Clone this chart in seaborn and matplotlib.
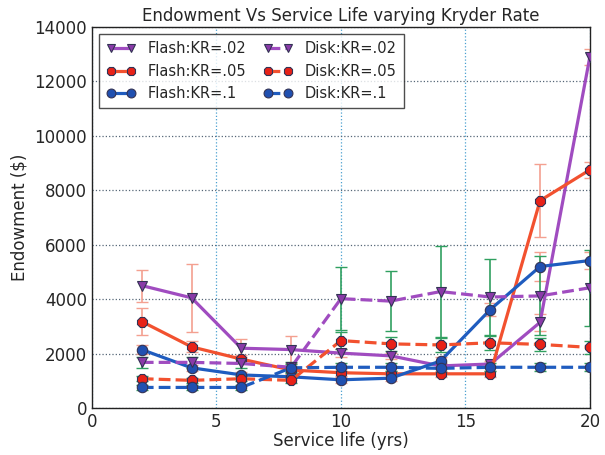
import numpy as np
import pandas as pd
import matplotlib
matplotlib.use('Agg')
import matplotlib.pyplot as plt
import seaborn as sns

# service life (yrs)
years = [2, 4, 6, 8, 10, 12, 14, 16, 18, 20]

# endowment ($)
flash_02 = [4500, 4050, 2200, 2150, 2020, 1920, 1550, 1620, 3150, 12900]
flash_05 = [3180, 2250, 1800, 1400, 1300, 1260, 1260, 1260, 7620, 8750]
flash_10 = [2150, 1480, 1220, 1150, 1040, 1100, 1730, 3620, 5200, 5420]
disk_02 = [1680, 1680, 1640, 1500, 4020, 3930, 4280, 4080, 4120, 4420]
disk_05 = [1080, 1020, 1080, 1020, 2480, 2360, 2320, 2400, 2340, 2230]
disk_10 = [760, 760, 760, 1480, 1500, 1500, 1460, 1500, 1500, 1500]

# error bar half-widths
flash_02_err = [590, 1250, 330, 510, 150, 120, 100, 100, 300, 300]
flash_05_err = [510, 200, 150, 150, 120, 100, 100, 100, 1350, 300]
flash_10_err = [150, 120, 100, 100, 100, 100, 150, 250, 520, 300]
disk_02_err = [200, 200, 150, 200, 1150, 1100, 1660, 1380, 1450, 1400]
disk_05_err = [100, 100, 100, 100, 300, 250, 250, 250, 250, 250]
disk_10_err = [80, 80, 80, 150, 150, 150, 150, 150, 150, 150]

labels = ['Flash:KR=.02', 'Flash:KR=.05', 'Flash:KR=.1',
          'Disk:KR=.02', 'Disk:KR=.05', 'Disk:KR=.1']
values = [flash_02, flash_05, flash_10, disk_02, disk_05, disk_10]
errors = [flash_02_err, flash_05_err, flash_10_err, disk_02_err, disk_05_err, disk_10_err]

sns.set_style('white')
plt.rcParams['font.family'] = ['DejaVu Sans']
plt.rcParams['xtick.direction'] = 'in'
plt.rcParams['ytick.direction'] = 'in'

line_cols = ['#a04cc0', '#f2512f', '#1f5cbf', '#a04cc0', '#f2512f', '#1f5cbf']
face_cols = ['#8a3aa8', '#e82218', '#2050b0', '#8a3aa8', '#e82218', '#2050b0']
markers = ['v', '8', 'o', 'v', '8', 'o']
dashes = ['-', '-', '-', '--', '--', '--']
err_cols = ['#f4a090', '#f4a090', '#f4a090', '#30a060', '#30a060', '#30a060']

df = pd.DataFrame({'year': years * 6,
                   'endow': sum(values, []),
                   'err': sum(errors, []),
                   'series': sum([[l] * len(years) for l in labels], [])})

fig = plt.figure(figsize=(6.05, 4.55), dpi=100)
ax = fig.add_axes([0.152, 0.103, 0.823, 0.838])

for i, lab in enumerate(labels):
    sub = df[df['series'] == lab]
    ax.errorbar(sub['year'], sub['endow'], yerr=sub['err'], fmt='none',
                ecolor=err_cols[i], elinewidth=1.2, capsize=4, capthick=1.0,
                zorder=1)

for i, lab in enumerate(labels):
    sub = df[df['series'] == lab]
    sns.lineplot(data=sub, x='year', y='endow', ax=ax, color=line_cols[i],
                 linestyle=dashes[i], linewidth=2.3, marker=markers[i],
                 markersize=7.5, markerfacecolor=face_cols[i],
                 markeredgecolor='#333355', markeredgewidth=0.8,
                 label=lab, zorder=3)

ax.set_xlim(0, 20)
ax.set_ylim(0, 14000)
ax.set_xticks([0, 5, 10, 15, 20])
ax.set_yticks(range(0, 14001, 2000))
ax.tick_params(labelsize=12, length=5, color='#333333')
ax.xaxis.grid(True, linestyle=':', color='#4aa0d0', linewidth=0.9)
ax.yaxis.grid(True, linestyle=':', color='#556677', linewidth=0.9)
for sp in ax.spines.values():
    sp.set_color('#222222')
    sp.set_linewidth(1.0)

ax.set_title('Endowment Vs Service Life varying Kryder Rate', fontsize=12, pad=4)
ax.set_xlabel('Service life (yrs)', fontsize=12, labelpad=1)
ax.set_ylabel('Endowment ($)', fontsize=12)

leg = ax.legend(loc='upper left', ncol=2, fontsize=10.5, frameon=True,
                fancybox=False, edgecolor='#222222', handlelength=2.0,
                numpoints=2, markerscale=0.85, columnspacing=1.2, borderpad=0.5)
leg.get_frame().set_linewidth(1.0)

fig.savefig('out.png', dpi=100)
